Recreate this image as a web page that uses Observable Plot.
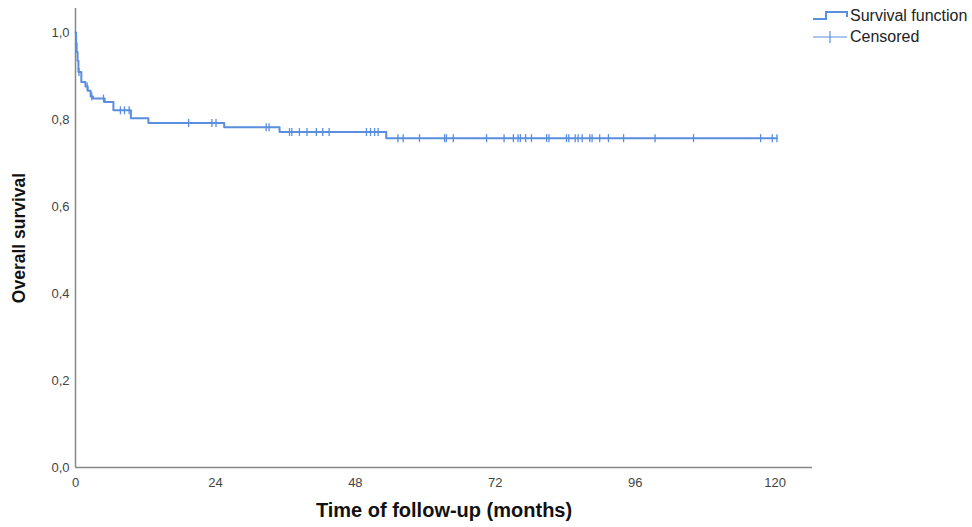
<!DOCTYPE html>
<html>
<head>
<meta charset="utf-8">
<script src="https://cdn.jsdelivr.net/npm/d3@7"></script>
<script src="https://cdn.jsdelivr.net/npm/@observablehq/plot@0.6"></script>
<style>
  body { margin: 0; background: #fff; font-family: "Liberation Sans", Arial, sans-serif; }
  #wrap { position: relative; width: 972px; height: 527px; overflow: hidden; }
  #legend { position: absolute; left: 812px; top: 5px; font-size: 16px; color: #222; line-height: 21px; white-space: nowrap; }
  #legend div { display: flex; align-items: center; }
  #legend svg { margin-right: 2px; }
</style>
</head>
<body>
<div id="wrap">
  <div id="chart"></div>
  <div id="legend">
    <div><svg width="36" height="16"><path d="M1,11 H14 V4 H35 V9" fill="none" stroke="#5a8edf" stroke-width="2"/></svg>Survival function</div>
    <div><svg width="36" height="16"><path d="M1,8 H35 M18,2 V14" fill="none" stroke="#5a8edf" stroke-width="1.2"/></svg>Censored</div>
  </div>
</div>
<script>
// Kaplan-Meier step points (time in months, survival)
const eventTimes = [0, 0.1, 0.2, 0.35, 0.5, 1.0, 1.7, 2.1, 2.6, 3.0, 5.0, 6.5, 9.5, 12.5, 25.5, 35.0, 53.3, 120.3];
const survival   = [1.0, 0.975, 0.955, 0.935, 0.909, 0.886, 0.876, 0.866, 0.853, 0.848, 0.840, 0.821, 0.803, 0.792, 0.782, 0.771, 0.757, 0.757];
// Censored observation times (months)
const censorTimes = [0.6, 2.0, 2.8, 4.8, 7.7, 8.4, 9.2, 19.4, 23.4, 24.1, 32.7, 33.2, 36.7, 37.1, 38.4, 39.7, 41.3, 42.4, 43.5,
  49.9, 50.6, 51.3, 51.9, 55.3, 56.2, 59.0, 63.3, 63.6, 64.8, 70.5, 73.5, 75.1, 75.9, 76.3, 77.2, 78.2, 80.8, 81.2,
  84.2, 84.6, 85.7, 86.2, 86.9, 88.2, 88.6, 89.9, 91.4, 94.0, 99.4, 106.0, 117.5, 119.5, 120.3];
const xTicks = [0, 24, 48, 72, 96, 120];
const yTicks = [0, 0.2, 0.4, 0.6, 0.8, 1.0];

const curve = eventTimes.map((t, i) => ({t, s: survival[i]}));
const survAt = t => survival[Math.max(0, d3.bisectRight(eventTimes, t) - 1)];
const censored = censorTimes.map(t => ({t, s: survAt(t)}));

const blue = "#5a8edf";
const tickSym = { draw(ctx, size) { const r = Math.sqrt(size / Math.PI); ctx.moveTo(0, -r); ctx.lineTo(0, r); } };

const chart = Plot.plot({
  width: 972, height: 527,
  marginLeft: 75, marginRight: 160, marginTop: 8, marginBottom: 60,
  style: { fontFamily: "Liberation Sans, Arial, sans-serif", fontSize: "13px", color: "#444", background: "#fff" },
  x: { domain: [0, 126.4], label: null },
  y: { domain: [0, 1.055], label: null },
  marks: [
    Plot.axisX({ ticks: xTicks, tickSize: 0, tickPadding: 10, label: null }),
    Plot.axisY({ ticks: yTicks, tickSize: 0, tickPadding: 6, label: null, tickFormat: d => d3.format(".1f")(d).replace(".", ",") }),
    Plot.axisY({ ticks: [], label: "Overall survival", labelAnchor: "center", labelArrow: "none", labelOffset: 63, fontSize: 17.5, fontWeight: "bold", fill: "#111" }),
    Plot.ruleX([0], { stroke: "#888", strokeWidth: 1.5 }),
    Plot.ruleY([0], { stroke: "#888", strokeWidth: 1.5 }),
    Plot.line(curve, { x: "t", y: "s", curve: "step-after", stroke: blue, strokeWidth: 2 }),
    Plot.dot(censored, { x: "t", y: "s", symbol: tickSym, r: 4, stroke: blue, strokeWidth: 1.3 }),
    Plot.text(["Time of follow-up (months)"], { frameAnchor: "bottom", dy: 49, fontSize: 20, fontWeight: "bold", fill: "#111" })
  ]
});
document.getElementById("chart").appendChild(chart);
</script>
</body>
</html>
